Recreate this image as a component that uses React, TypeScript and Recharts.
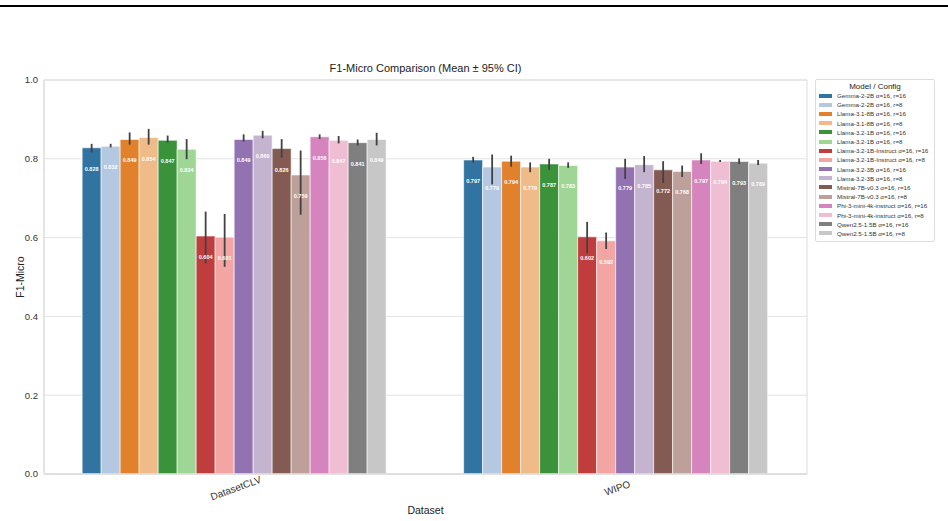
import { BarChart, Bar, XAxis, YAxis, CartesianGrid, ErrorBar, LabelList, ReferenceArea } from 'recharts'

const datasets = ['DatasetCLV', 'WIPO']

const configs = [
  'Gemma-2-2B α=16, r=16',
  'Gemma-2-2B α=16, r=8',
  'Llama-3.1-8B α=16, r=16',
  'Llama-3.1-8B α=16, r=8',
  'Llama-3.2-1B α=16, r=16',
  'Llama-3.2-1B α=16, r=8',
  'Llama-3.2-1B-Instruct α=16, r=16',
  'Llama-3.2-1B-Instruct α=16, r=8',
  'Llama-3.2-3B α=16, r=16',
  'Llama-3.2-3B α=16, r=8',
  'Mistral-7B-v0.3 α=16, r=16',
  'Mistral-7B-v0.3 α=16, r=8',
  'Phi-3-mini-4k-instruct α=16, r=16',
  'Phi-3-mini-4k-instruct α=16, r=8',
  'Qwen2.5-1.5B α=16, r=16',
  'Qwen2.5-1.5B α=16, r=8',
]

// tab20, desaturated like seaborn bars
const COLORS = [
  '#3274a1', '#b5c8e1', '#e1812c', '#eebb89', '#3a923a', '#9fd595', '#c03d3e', '#f2a5a3',
  '#9372b2', '#c4b4d0', '#845b53', '#bea09a', '#d684bd', '#efbed3', '#7f7f7f', '#c7c7c7',
]

const clvMean = [0.828, 0.832, 0.849, 0.854, 0.847, 0.824, 0.604, 0.601, 0.849, 0.860, 0.826, 0.759, 0.856, 0.847, 0.841, 0.849]
const clvLow = [0.816, 0.829, 0.836, 0.836, 0.841, 0.799, 0.535, 0.526, 0.844, 0.852, 0.803, 0.658, 0.850, 0.839, 0.834, 0.834]
const clvHigh = [0.838, 0.838, 0.867, 0.876, 0.859, 0.850, 0.666, 0.660, 0.862, 0.871, 0.850, 0.821, 0.862, 0.858, 0.849, 0.866]

const wipoMean = [0.797, 0.779, 0.794, 0.779, 0.787, 0.783, 0.602, 0.592, 0.779, 0.785, 0.772, 0.768, 0.797, 0.794, 0.793, 0.789]
const wipoLow = [0.790, 0.735, 0.780, 0.766, 0.772, 0.777, 0.560, 0.571, 0.749, 0.766, 0.739, 0.754, 0.787, 0.792, 0.787, 0.784]
const wipoHigh = [0.805, 0.811, 0.808, 0.791, 0.800, 0.791, 0.640, 0.613, 0.800, 0.807, 0.794, 0.783, 0.814, 0.797, 0.801, 0.797]

const yTicks = [0, 0.2, 0.4, 0.6, 0.8, 1.0]

const FONT = '"Liberation Sans", Arial, sans-serif'

const data = datasets.map((name, d) => {
  const mean = d === 0 ? clvMean : wipoMean
  const low = d === 0 ? clvLow : wipoLow
  const high = d === 0 ? clvHigh : wipoHigh
  const row: any = { dataset: name }
  mean.forEach((m, i) => {
    row[`s${i}`] = m
    row[`e${i}`] = [m - low[i], high[i] - m]
  })
  return row
})

const BarValue = (props: any) => {
  const { x, y, width, value } = props
  return (
    <text x={x + width / 2} y={y + 23} fill="#fff" fontSize={5.5} fontWeight="bold" textAnchor="middle" fontFamily={FONT}>
      {Number(value).toFixed(3)}
    </text>
  )
}

const DatasetTick = (props: any) => {
  const { x, y, payload } = props
  return (
    <g transform={`translate(${x + 1},${y + 6}) rotate(-20)`}>
      <text textAnchor="middle" dy="0.35em" fontSize={10} fill="#333" fontFamily={FONT}>
        {payload.value}
      </text>
    </g>
  )
}

export default function App() {
  return (
    <div style={{ position: 'absolute', left: 0, top: 0, width: 948, height: 521, background: '#fff', fontFamily: FONT }}>
      <div style={{ position: 'absolute', left: 0, top: 5, width: 948, height: 2, background: '#000' }} />

      <div style={{ position: 'absolute', left: 0, width: 851, top: 61, textAlign: 'center', fontSize: 11, color: '#222', lineHeight: '14px' }}>
        F1-Micro Comparison (Mean ± 95% CI)
      </div>

      <BarChart
        width={948}
        height={521}
        data={data}
        margin={{ top: 80, right: 141, left: 0, bottom: 0 }}
        barCategoryGap="10%"
        barGap={0}
      >
        <CartesianGrid vertical={false} stroke="#e3e3e3" strokeWidth={1} />
        <ReferenceArea y1={0} y2={1} fill="none" stroke="#dcdcdc" strokeWidth={1} ifOverflow="visible" />
        <XAxis
          dataKey="dataset"
          height={47}
          tickLine={false}
          axisLine={{ stroke: '#dcdcdc', strokeWidth: 1.5 }}
          tick={<DatasetTick />}
          interval={0}
        />
        <YAxis
          width={44}
          domain={[0, 1]}
          ticks={yTicks}
          tickFormatter={(v: number) => v.toFixed(1)}
          tickLine={false}
          tickSize={0}
          tickMargin={6}
          axisLine={{ stroke: '#dcdcdc' }}
          tick={{ fontSize: 9.5, fill: '#333', fontFamily: FONT }}
        />
        {configs.map((c, i) => (
          <Bar key={c} dataKey={`s${i}`} name={c} fill={COLORS[i]} stroke="#fff" strokeWidth={0.6} isAnimationActive={false}>
            <ErrorBar dataKey={`e${i}`} width={0} stroke="#424242" strokeWidth={1.8} direction="y" />
            <LabelList dataKey={`s${i}`} content={<BarValue />} />
          </Bar>
        ))}
      </BarChart>

      <div style={{ position: 'absolute', left: -20, top: 270, width: 80, textAlign: 'center', fontSize: 10.5, color: '#222', transform: 'rotate(-90deg)', transformOrigin: '40px 7px', lineHeight: '14px', whiteSpace: 'nowrap' }}>
        F1-Micro
      </div>
      <div style={{ position: 'absolute', left: 0, width: 851, top: 503, textAlign: 'center', fontSize: 10.5, color: '#222', lineHeight: '14px' }}>
        Dataset
      </div>

      <div
        style={{
          position: 'absolute', left: 815, top: 79, width: 120, height: 163, boxSizing: 'border-box',
          border: '1px solid #dcdcdc', borderRadius: 2, background: '#fff',
        }}
      >
        <div style={{ textAlign: 'center', fontSize: 8, color: '#222', marginTop: 2, lineHeight: '9px' }}>Model / Config</div>
        {configs.map((c, i) => (
          <div key={c} style={{ display: 'flex', alignItems: 'center', height: 9.2, marginLeft: 3 }}>
            <span style={{ display: 'inline-block', width: 13, height: 4, background: COLORS[i], marginRight: 5 }} />
            <span style={{ fontSize: 6.2, color: '#333', whiteSpace: 'nowrap', lineHeight: '9px' }}>{c}</span>
          </div>
        ))}
      </div>
    </div>
  )
}
